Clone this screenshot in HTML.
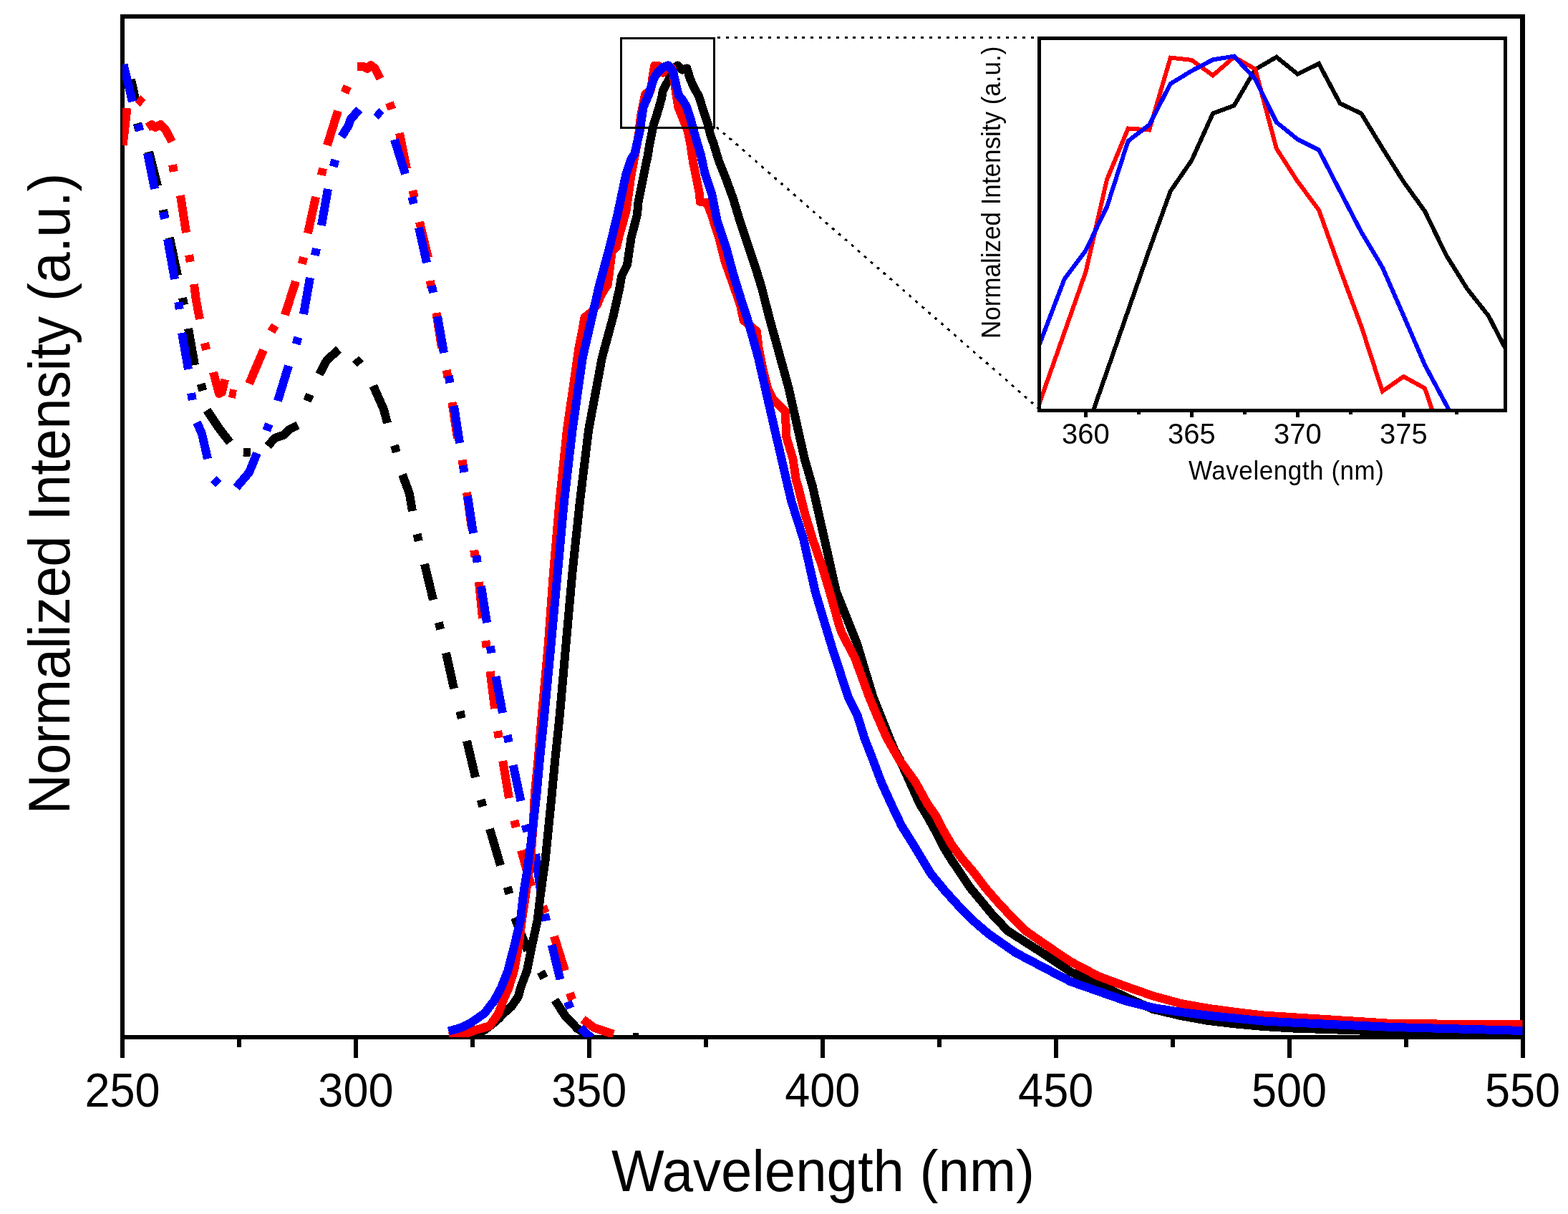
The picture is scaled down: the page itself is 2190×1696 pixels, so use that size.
<!DOCTYPE html><html><head><meta charset="utf-8"><title>Normalized Intensity vs Wavelength</title>
<style>html,body{margin:0;padding:0;background:#fff;overflow:hidden;}svg{display:block;}text{font-family:"Liberation Sans",Arial,Helvetica,sans-serif;fill:#000;}</style></head><body>
<svg width="2190" height="1696" viewBox="0 0 2190 1696" shape-rendering="crispEdges">
<rect x="0" y="0" width="2190" height="1696" fill="#fff"/>
<defs><clipPath id="cm"><rect x="171" y="23" width="1955.5" height="1426"/></clipPath><clipPath id="ci"><rect x="1451.5" y="53.5" width="651" height="520"/></clipPath></defs>
<g fill="#000">
<rect x="168" y="20" width="6" height="1432"/>
<rect x="2123" y="20" width="7" height="1432"/>
<rect x="168" y="20" width="1962" height="6"/>
<rect x="168" y="1446" width="1962" height="6"/>
<rect x="168.00" y="1452" width="6" height="26"/>
<rect x="330.96" y="1452" width="6" height="10.5"/>
<rect x="493.92" y="1452" width="6" height="26"/>
<rect x="656.88" y="1452" width="6" height="10.5"/>
<rect x="819.83" y="1452" width="6" height="26"/>
<rect x="982.79" y="1452" width="6" height="10.5"/>
<rect x="1145.75" y="1452" width="6" height="26"/>
<rect x="1308.71" y="1452" width="6" height="10.5"/>
<rect x="1471.67" y="1452" width="6" height="26"/>
<rect x="1634.62" y="1452" width="6" height="10.5"/>
<rect x="1797.58" y="1452" width="6" height="26"/>
<rect x="1960.54" y="1452" width="6" height="10.5"/>
<rect x="2123.50" y="1452" width="6" height="26"/>
</g>
<g font-size="63" text-anchor="middle">
<text transform="translate(171.00,1546.3) scale(1,1.05)">250</text>
<text transform="translate(496.92,1546.3) scale(1,1.05)">300</text>
<text transform="translate(822.83,1546.3) scale(1,1.05)">350</text>
<text transform="translate(1148.75,1546.3) scale(1,1.05)">400</text>
<text transform="translate(1474.67,1546.3) scale(1,1.05)">450</text>
<text transform="translate(1800.58,1546.3) scale(1,1.05)">500</text>
<text transform="translate(2126.50,1546.3) scale(1,1.05)">550</text>
</g>
<text transform="translate(854,1664.3) scale(1,1.04)" font-size="78">Wavelength (nm)</text>
<text transform="translate(97,1137.8) rotate(-90) scale(1,1.04)" font-size="78" textLength="896" lengthAdjust="spacing">Normalized Intensity (a.u.)</text>
<g clip-path="url(#cm)" fill="none" stroke-width="12" stroke-linejoin="round" stroke-linecap="butt">
<path stroke="#000" d="M183 111 L186 124 L189.5 141 M191.7 172.2 L194.3 181.8 M208 212 L220 260 M227.9 293.1 L230.1 302.9 M237 332 L248 385 M255 416.1 L257 425.9 M263 459 L272 510 M280.7 536.2 L283.3 545.8 M289 573 L305 597 L321 618 M340 631.5 L350 632.5 M374 623 L384 612 L396 608 L404 600 L416 594 M429.1 560.2 L432.9 551 M446 523 L456 504 L473 488 M496.6 501.4 L503.4 508.6 M521.4 539 L536 572 L541 591 M551 622.2 L553.8 631.8 M562 663 L572 690 L576 714 M582.5 746.1 L584.7 755.9 M593 788 L605 838 M612.8 869.5 L615.2 879.3 M623 912 L634 962 M642.4 993.7 L644.8 1003.5 M652 1035 L664 1086 M671.7 1117.2 L674.3 1126.8 M684 1158 L699 1209 M708.7 1239.2 L711.3 1248.8 M719 1282 L737 1328 M755.3 1357.6 L760.1 1366.4 M774.8 1397 L790 1420 L806.4 1437 L815 1442 M841 1448.5 L851 1449.5 M884 1449 L892 1449"/>
<path stroke="#f00" d="M171.5 203 L174.5 178 L177.5 151 M192.4 137.6 L199.6 144.4 M206 178 L212 174 L217 178 L224 174 L231 181 L236 190 L240 198 M241.2 230.1 L242.8 239.9 M252 273 L260 325 M264.2 356.1 L265.8 365.9 M271 397 L274 420 L279 446 M285.8 479.2 L288.2 488.8 M298 520 L306 550 L310 548 L314 530 M320.1 549.1 L329.9 550.9 M348 536 L368 489 M379 463.3 L384.2 454.7 M398 440 L413 393 M421.8 368.8 L424.2 359.2 M430 326 L441 275 M448.9 244.9 L451.1 235.1 M457 203 L472 155 M481.4 129.6 L485.4 120.4 M499 93 L508 93 L513 96 L518 91 L524 96 L531 110 M543.9 143.3 L547.3 152.7 M558 186 L568 236 M576.4 266.1 L578.8 275.9 M586 310 L598 360 M600.9 392.1 L602.3 401.9 M609.4 437 L617 486 M623.7 517.1 L625.5 526.9 M631.4 562 L639 612 M645.6 642.5 L647.2 652.3 M652 688 L659 738 M662.3 768.6 L663.7 778.6 M669 813 L674 864 M678.3 895.1 L679.7 904.9 M684.6 938 L691 990 M695.2 1021.1 L696.8 1030.9 M702.3 1063 L711 1115 M718.4 1146.1 L720.6 1155.9 M728 1188 L742 1238 M757.9 1266.5 L762.1 1275.5 M774 1308 L789 1356 M795.8 1387.3 L799.2 1396.7 M814 1424 L830 1436 L857 1445"/>
<path stroke="#00f" d="M172.5 90 L178 113 L185 142 M192.6 173.2 L195.4 182.8 M206 214 L216 264 M227.8 296.2 L230.2 305.8 M234 334 L244 390 M249.3 422 L250.7 432 M254 465 L263 516 M267.2 549.1 L268.8 558.9 M275 590 L282 606 L290 641 M298.5 669.5 L305.5 676.5 M330 681 L348 660 L359 633 M372.2 601.6 L375.8 592.4 M388 560 L403 511 M413.6 480.8 L416.4 471.2 M424 439 L433 388 M439.9 356.9 L442.1 347.1 M449 315 L458 264 M465.7 232.8 L468.3 223.2 M477 191 L487 175 L490 166 L502 153 M525.2 155.7 L532.8 162.3 M551 195 L566 243 M575.4 275.2 L577.8 284.8 M585 318 L596 367 M603 399.1 L605 408.9 M611 442 L620 493 M626.7 525.1 L628.5 534.9 M634 567 L642 619 M646.9 650.1 L648.3 659.9 M653 693 L661 745 M665.3 776.1 L666.7 785.9 M672 819 L680 870 M684.8 902.7 L686.4 912.5 M692.4 945 L702 996 M708.6 1027.1 L710.6 1036.9 M716.7 1069 L727.5 1119 M733.7 1152.2 L736.3 1161.8 M748 1193 L755 1244 M761 1276.7 L763 1286.5 M770.7 1320 L782.4 1368.3 M792.9 1399.4 L796.7 1408.6 M810.5 1435.6 L818 1443 L826 1450"/>
<path stroke="#000" d="M660 1447 L676.8 1439 L686.2 1432 L696.9 1422.7 L705 1414.4 L714.6 1406 L724 1392 L727 1380 L735.9 1356.4 L743 1321 L750.7 1285.5 L755 1249 L761.6 1202 L766.3 1154.6 L771 1107.3 L775.4 1060 L781.7 1000 L790.5 900 L799.4 800 L810 700 L822.2 600 L840.8 500 L856.5 442 L865.9 400 L868 386 L876 370 L881.5 332.5 L889.9 300 L891.5 282.5 L901.5 232.5 L905.2 215 L906.9 203.4 L910.2 186.8 L912.7 174.4 L916.8 162 L920.6 149.5 L924 137 L926 126 L932 115 L937 105 L941 96 L946.3 91.4 L952.9 97.6 L959.5 95.5 L961 100 L963 108 L968 119.7 L976 134.6 L980 147 L985 162 L989 174.4 L992.4 189.3 L996.5 200 L1004 225 L1014 250 L1024 277.5 L1031.5 302.5 L1041.5 332.5 L1054 370 L1064 402.5 L1074 442 L1101.5 542 L1124 642 L1135 680 L1151.5 753.3 L1168 826.7 L1182.7 863.3 L1197.3 900 L1219.3 973.3 L1248.7 1046.6 L1256.9 1061.5 L1270.7 1092.2 L1284.5 1123 L1295 1140 L1306.1 1160.1 L1316.1 1180.2 L1328.2 1200.3 L1341.8 1220.4 L1355.3 1240.5 L1371.9 1260.6 L1388.5 1280.7 L1408.1 1300.8 L1456.9 1332 L1495.4 1357.9 L1533.8 1374.2 L1572.3 1393 L1610.8 1410 L1649.2 1419 L1687.7 1426 L1726.2 1430.5 L1764.6 1434 L1806 1436.5 L1945 1441 L2130 1444"/>
<path stroke="#f00" d="M627.2 1448 L651.2 1443.8 L667.7 1438 L683.9 1433.3 L696.3 1415.6 L702.8 1397.8 L710.5 1380 L718 1356 L724.4 1321 L729 1285 L733.5 1255 L738.5 1220 L742 1190 L744.6 1154.6 L747 1107 L751.7 1060 L756.7 1000 L765.8 900 L773 800 L781.6 700 L792 600 L806.5 500 L808.3 486.8 L810.4 475.7 L813.4 460.7 L816.4 443.6 L826 436 L834.1 425.5 L838.1 415.4 L844.1 404.4 L848.6 398.3 L850.7 383.3 L853.2 363.2 L854.7 351.1 L861.2 345.1 L864.7 330 L874.5 295 L881.5 245 L890 200 L892.2 186.8 L893.5 174.4 L895 162 L897.6 149.5 L900 137 L901.5 131 L908 128 L910 120.5 L910.8 112 L912.5 102 L914 92 L920 92 L926 101.7 L933 93 L938.6 95 L940.3 102.3 L941 108 L942.3 116.4 L944 128.8 L945.6 139.6 L947.3 149.5 L950.6 157.8 L953.9 166 L957.2 174.4 L960.5 182.7 L962.2 191 L964.7 203.4 L966.3 215 L968.5 229 L970.8 239.7 L974 256.2 L976.6 268.6 L978 282 L987 283 L990 290 L993 297.6 L1004.6 333.7 L1012.2 364.4 L1023.2 395.2 L1034 426 L1038.5 447.4 L1056.8 462.8 L1059.8 487.4 L1066 518 L1072 542 L1079.8 558 L1096.8 575 L1098.3 610.4 L1107.5 641 L1112 671.8 L1114.8 680 L1124 716.7 L1135 753.3 L1147.8 790 L1158.8 826.7 L1171 870 L1176 885 L1193.7 918.3 L1213.8 973.3 L1224.9 1000 L1238.4 1030.7 L1256 1061.5 L1278.4 1092.2 L1295.3 1123 L1307.3 1140 L1317.6 1160.1 L1329.2 1180.2 L1344.3 1200.3 L1361.4 1220.4 L1376.4 1240.5 L1394 1260.6 L1412.6 1280.7 L1433.2 1300.8 L1456.9 1317.5 L1495.4 1343.5 L1533.8 1363.7 L1572.3 1378 L1610.8 1391.5 L1649.2 1402 L1687.7 1408.8 L1726.2 1414 L1764.6 1418.5 L1800 1420.8 L1945 1430 L2130 1431.5"/>
<path stroke="#00f" d="M626.5 1440.7 L644.3 1435.6 L658 1428.7 L669 1421 L676.8 1415.6 L684 1406 L690.4 1397.8 L700 1380 L709.3 1356.4 L718.4 1321 L727 1285.5 L731 1249.2 L736.7 1213.8 L741.5 1178 L744.4 1154.6 L749.7 1107.3 L753.9 1060 L760.2 1000 L769.7 900 L778.8 800 L788 700 L799.6 600 L813.7 500 L836.7 400 L851.5 345 L862.4 300 L874 245 L881.5 222 L886.2 215 L890 199 L893.7 182.7 L896.1 166 L898.6 149.5 L905.7 133 L911 116.4 L914 108 L919.8 99.8 L926 94 L933.4 91.4 L940 99.8 L943.8 116.4 L947.9 133 L954.5 141.3 L959 149.5 L964.5 166 L969 182.7 L973.6 199 L978.5 215 L984 240 L994 270 L1001.5 307.5 L1014 345 L1024 382.5 L1034 415 L1043 442 L1059.1 500 L1082 600 L1105.2 700 L1118 740 L1122.2 753.3 L1138.7 826.7 L1160.7 900 L1184.5 973.3 L1197.7 1000 L1207.2 1030.7 L1219.2 1061.5 L1230.7 1092.2 L1244.6 1123 L1259.2 1153.7 L1278.4 1184.4 L1300 1220.4 L1320.2 1245 L1340.3 1267.1 L1360.4 1287.2 L1380.5 1304.5 L1418.5 1331 L1456.9 1351.2 L1495.4 1371.3 L1533.8 1384.8 L1572.3 1398.3 L1610.8 1407.9 L1649.2 1414 L1687.7 1418.8 L1726.2 1422.7 L1764.6 1426.5 L1806 1428.6 L1945 1435 L2130 1440"/>
</g>
<rect x="867.5" y="53.5" width="130" height="124.5" fill="none" stroke="#000" stroke-width="3"/>
<g stroke="#000" stroke-width="3" fill="none">
<path stroke-dasharray="4 7.84" d="M1002 52.5 L1449 52.5"/>
<path stroke-dasharray="4 7.9" stroke-dashoffset="-2.6" d="M999 175.7 L1450 570"/>
</g>
<rect x="1451.5" y="53.5" width="651" height="520" fill="#fff" stroke="none"/>
<g clip-path="url(#ci)" fill="none" stroke-width="6" stroke-linejoin="miter" stroke-linecap="butt">
<path stroke="#000" d="M1516.4 604 L1546 519 L1575.6 434 L1605.2 349 L1634.8 267 L1664.4 224 L1694 158.5 L1723.6 147.5 L1753.2 97 L1782.8 79.7 L1812.4 103.5 L1842 89 L1871.6 144.5 L1901.2 158.5 L1930.8 207 L1960.4 254 L1990 295 L2019.6 356 L2049.2 403.5 L2078.8 441 L2108.4 498"/>
<path stroke="#f00" d="M1427.6 632 L1457.2 548 L1486.8 464 L1516.4 380 L1546 251 L1575.6 179.5 L1605.2 181.5 L1634.8 80.6 L1664.4 83.9 L1694 105.4 L1723.6 79.7 L1753.2 96.5 L1782.8 207.5 L1812.4 253.6 L1842 293.3 L1871.6 376 L1901.2 455.6 L1930.8 546.7 L1960.4 526 L1990 542.5 L2019.6 630"/>
<path stroke="#00f" d="M1427.6 544 L1457.2 467 L1486.8 389.5 L1516.4 350 L1546 289 L1575.6 197 L1605.2 174.4 L1634.8 117 L1664.4 99 L1694 83.4 L1723.6 78.6 L1753.2 110.5 L1782.8 170.8 L1812.4 194.7 L1842 209.5 L1871.6 267 L1901.2 324 L1930.8 373.5 L1960.4 441 L1990 509.8 L2019.6 565 L2049.2 620"/>
</g>
<rect x="1451.5" y="53.5" width="651" height="520" fill="none" stroke="#000" stroke-width="5"/>
<g fill="#000">
<rect x="1513.90" y="576" width="5" height="6.5"/>
<rect x="1587.90" y="576" width="5" height="3"/>
<rect x="1661.90" y="576" width="5" height="6.5"/>
<rect x="1735.90" y="576" width="5" height="3"/>
<rect x="1809.90" y="576" width="5" height="6.5"/>
<rect x="1883.90" y="576" width="5" height="3"/>
<rect x="1957.90" y="576" width="5" height="6.5"/>
<rect x="2031.90" y="576" width="5" height="3"/>
</g>
<g font-size="40" text-anchor="middle">
<text transform="translate(1516.40,619.6) scale(1,1.03)">360</text>
<text transform="translate(1664.40,619.6) scale(1,1.03)">365</text>
<text transform="translate(1812.40,619.6) scale(1,1.03)">370</text>
<text transform="translate(1960.40,619.6) scale(1,1.03)">375</text>
</g>
<text transform="translate(1660,670) scale(1,1.03)" font-size="35" textLength="273" lengthAdjust="spacing">Wavelength (nm)</text>
<text transform="translate(1396.8,473) rotate(-90) scale(1,1.03)" font-size="35">Normalized Intensity (a.u.)</text>
</svg></body></html>
